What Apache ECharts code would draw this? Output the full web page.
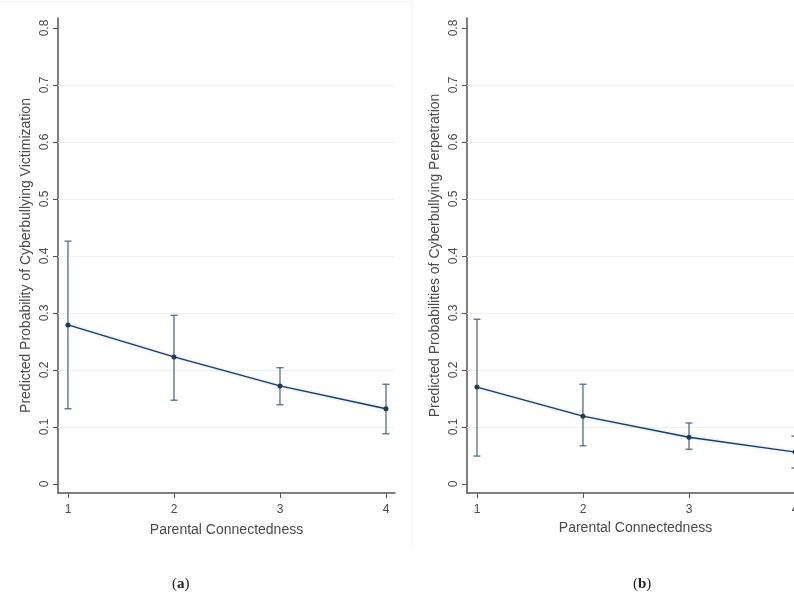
<!DOCTYPE html>
<html>
<head>
<meta charset="utf-8">
<script src="https://cdn.jsdelivr.net/npm/echarts@6/dist/echarts.min.js"></script>
<style>
  html, body { margin: 0; padding: 0; background: #ffffff; }
  #chart { width: 794px; height: 599px; }
</style>
</head>
<body>
<div id="chart"></div>
<script>
// ── Data ────────────────────────────────────────────────────────────────
const connectedness = [1, 2, 3, 4];
const yTicks = [0, 0.1, 0.2, 0.3, 0.4, 0.5, 0.6, 0.7, 0.8];
const gridValues = [0.1, 0.2, 0.3, 0.4, 0.5, 0.6, 0.7];

// (a) victimization
const victimProb  = [0.279, 0.223, 0.172, 0.132];
const victimLower = [0.132, 0.147, 0.139, 0.088];
const victimUpper = [0.426, 0.296, 0.204, 0.175];

// (b) perpetration
const perpProb  = [0.170, 0.119, 0.082, 0.056];
const perpLower = [0.049, 0.067, 0.061, 0.028];
const perpUpper = [0.289, 0.175, 0.107, 0.084];

// ── Style ───────────────────────────────────────────────────────────────
const fontFamily = 'Liberation Sans, Arial, sans-serif';
const textColor  = '#4a4a4a';
const axisColor  = '#555555';
const lineColor  = '#1f3b57';
const barColor   = '#4f6f8c';
const gridColor  = '#eef1f4';

const chart = echarts.init(document.getElementById('chart'), null, { renderer: 'canvas' });

function xAxisFor(gridIndex) {
  return {
    type: 'value', gridIndex, min: 0.906, max: 4.085,
    name: 'Parental Connectedness', nameLocation: 'middle',
    nameGap: gridIndex === 0 ? 30 : 22,
    nameTextStyle: { fontFamily, fontSize: 14, color: textColor },
    axisLine: { show: true, onZero: false, lineStyle: { color: axisColor, width: 1.5 } },
    axisTick: { show: true, length: 5, customValues: connectedness, lineStyle: { color: axisColor } },
    axisLabel: { customValues: connectedness, fontFamily, fontSize: 12, color: textColor, margin: 11 },
    splitLine: { show: false },
  };
}

function yAxisFor(gridIndex, title) {
  return {
    type: 'value', gridIndex, min: -0.0158, max: 0.8175,
    name: title, nameLocation: 'middle', nameGap: 25,
    nameTextStyle: { fontFamily, fontSize: 14, color: textColor },
    axisLine: { show: true, onZero: false, lineStyle: { color: axisColor, width: 1.5 } },
    axisTick: { show: true, length: 5, customValues: yTicks, lineStyle: { color: axisColor } },
    axisLabel: {
      customValues: yTicks, rotate: 90, fontFamily, fontSize: 12, color: textColor, margin: 7,
      formatter: (v) => String(Math.round(v * 10) / 10),
    },
    splitLine: { show: false },
  };
}

function errorBars(gridIndex, lower, upper) {
  return {
    type: 'custom', xAxisIndex: gridIndex, yAxisIndex: gridIndex, silent: true, z: 3,
    data: connectedness.map((x, i) => [x, lower[i], upper[i]]),
    renderItem: (params, api) => {
      const lo = api.coord([api.value(0), api.value(1)]);
      const hi = api.coord([api.value(0), api.value(2)]);
      const cap = 3.5;
      const style = { stroke: barColor, lineWidth: 1.3, fill: null };
      return {
        type: 'group',
        children: [
          { type: 'line', shape: { x1: lo[0], y1: lo[1], x2: hi[0], y2: hi[1] }, style },
          { type: 'line', shape: { x1: lo[0] - cap, y1: lo[1], x2: lo[0] + cap, y2: lo[1] }, style },
          { type: 'line', shape: { x1: hi[0] - cap, y1: hi[1], x2: hi[0] + cap, y2: hi[1] }, style },
        ],
      };
    },
  };
}

function probLine(gridIndex, values) {
  return {
    type: 'line', xAxisIndex: gridIndex, yAxisIndex: gridIndex, z: 4,
    data: connectedness.map((x, i) => [x, values[i]]),
    symbol: 'circle', symbolSize: 5, showSymbol: true,
    itemStyle: { color: lineColor },
    lineStyle: { color: lineColor, width: 1.3, shadowColor: 'rgba(120,170,220,0.6)', shadowBlur: 3 },
    markLine: {
      silent: true, symbol: 'none', label: { show: false }, z: 1,
      lineStyle: { color: gridColor, width: 1, type: 'solid' },
      data: gridValues.map((v) => ({ yAxis: v })),
    },
  };
}

const captionStyle = (letter) => ({
  text: '({b|' + letter + '})', fill: '#222', font: '15px "Liberation Serif", serif', align: 'center',
  rich: { b: { fontWeight: 'bold', fontFamily: 'Liberation Serif', fontSize: 15, fill: '#222' } },
});

chart.setOption({
  animation: false,
  backgroundColor: '#ffffff',
  grid: [
    { left: 58, top: 18, width: 337, height: 475, outerBoundsMode: 'none' },
    { left: 467, top: 18, width: 337, height: 475, outerBoundsMode: 'none' },
  ],
  xAxis: [xAxisFor(0), xAxisFor(1)],
  yAxis: [
    yAxisFor(0, 'Predicted Probability of Cyberbullying Victimization'),
    yAxisFor(1, 'Predicted Probabilities of Cyberbullying Perpetration'),
  ],
  series: [
    errorBars(0, victimLower, victimUpper),
    probLine(0, victimProb),
    errorBars(1, perpLower, perpUpper),
    probLine(1, perpProb),
  ],
  graphic: [
    { type: 'line', silent: true, shape: { x1: 0, y1: 2, x2: 412, y2: 2 }, style: { stroke: '#f0f0f0', lineWidth: 1 } },
    { type: 'line', silent: true, shape: { x1: 412, y1: 2, x2: 412, y2: 547 }, style: { stroke: '#f0f0f0', lineWidth: 1 } },
    { type: 'text', left: 172, top: 577, silent: true, style: captionStyle('a') },
    { type: 'text', left: 633, top: 577, silent: true, style: captionStyle('b') },
  ],
});
</script>
</body>
</html>
